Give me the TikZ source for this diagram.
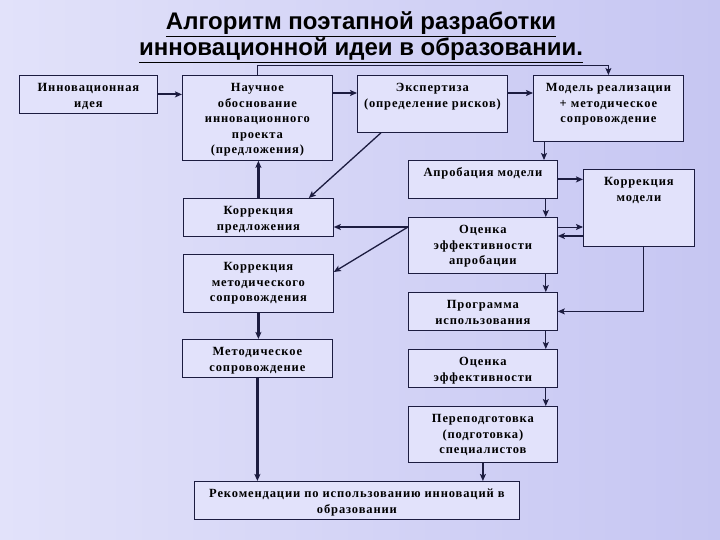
\documentclass[tikz,border=0pt]{standalone}
\usepackage{fontspec}
\setmainfont{Liberation Serif}[LetterSpace=7]
\newfontfamily\titlefont{Liberation Sans}
\usetikzlibrary{arrows.meta,positioning}
\tikzset{ > = {Stealth[length=7pt,width=6pt,inset=1.5pt]} }

\definecolor{bgl}{RGB}{226,226,250}
\definecolor{bgr}{RGB}{198,198,242}
\definecolor{boxfill}{RGB}{226,226,251}
\definecolor{edge}{RGB}{28,28,64}

% box text: width, height, lines (text at the top)
\newcommand{\boxtxt}[3]{\parbox[t][#2pt][t]{#1pt}{\centering\vspace*{5.5pt}\strut #3\par}}

\begin{document}
\begin{tikzpicture}
  [
    x = 1pt, y = -1pt,
    every node/.style = { font = \bfseries\fontsize{12.5}{15.5}\selectfont },
    blk/.style = { draw = edge, fill = boxfill, line width = 0.8pt, inner sep = 0pt, anchor = north west },
    lnk/.style = { ->, draw = edge, line width = 0.9pt },
    midlnk/.style = { ->, draw = edge, line width = 1.3pt },
    boldlnk/.style = { ->, draw = edge, line width = 2.2pt }
  ]
    \fill [left color = bgl, right color = bgr] (0,0) rectangle (720,540);
    \useasboundingbox (0,0) rectangle (720,540);

    \node (title) [align = center, font = \titlefont\bfseries\fontsize{24}{24}\selectfont] at (361,37)
      {\underline{Алгоритм поэтапной разработки}\\ \underline{инновационной идеи в образовании.}};

    % top row
    \node (a) [blk] at (19,75) {\boxtxt{138}{38}{Инновационная\\ идея}};
    \node (b) [blk] at (182,75) {\boxtxt{150}{85}{Научное\\ обоснование\\ инновационного\\ проекта\\ (предложения)}};
    \node (c) [blk] at (357,75) {\boxtxt{150}{57}{Экспертиза\\ (определение рисков)}};
    \node (d) [blk] at (533,75) {\boxtxt{150}{66}{Модель реализации\\ + методическое\\ сопровождение}};

    % right column
    \node (e) [blk] at (408,160) {\boxtxt{149}{38}{Апробация модели}};
    \node (f) [blk] at (583,169) {\boxtxt{111}{77}{Коррекция\\ модели}};
    \node (g) [blk] at (408,217) {\boxtxt{149}{56}{Оценка\\ эффективности\\ апробации}};
    \node (h) [blk] at (408,292) {\boxtxt{149}{38}{Программа\\ использования}};
    \node (i) [blk] at (408,349) {\boxtxt{149}{38}{Оценка\\ эффективности}};
    \node (j) [blk] at (408,406) {\boxtxt{149}{56}{Переподготовка\\ (подготовка)\\ специалистов}};

    % left column
    \node (l) [blk] at (183,198) {\boxtxt{150}{38}{Коррекция\\ предложения}};
    \node (m) [blk] at (183,254) {\boxtxt{150}{58}{Коррекция\\ методического\\ сопровождения}};
    \node (n) [blk] at (182,339) {\boxtxt{150}{38}{Методическое\\ сопровождение}};
    \node (k) [blk] at (194,481) {\boxtxt{325}{38}{Рекомендации по использованию инноваций в\\ образовании}};

    \coordinate (d1) at ([xshift=11pt]d.south west);
    \coordinate (e1) at ([xshift=-12pt]e.south east);
    \coordinate (c1) at ([xshift=24pt]c.south west);
    \coordinate (l1) at ([xshift=-25pt]l.north east);
    \coordinate (m1) at ([yshift=-18pt]m.north east);
    \coordinate (gw) at ([yshift=-10pt]g.north west);
    \coordinate (ge1) at ([yshift=-10pt]g.north east);
    \coordinate (ge2) at ([yshift=-19pt]g.north east);
    \coordinate (f1) at ([xshift=5pt]f.south);

    \draw [boldlnk] (a.east) -- (a.east -| b.west);
    \draw [boldlnk] ([yshift=-18pt]b.north east) -- ([yshift=-18pt]c.north west);
    \draw [boldlnk] ([yshift=-18pt]c.north east) -- ([yshift=-18pt]d.north west);
    \draw [lnk] (b.north) -- ++(0,-10) -| (d.north);
    \draw [lnk] (d1) -- (d1 |- e.north);
    \draw [lnk] (e1) -- (e1 |- g.north);
    \draw [lnk] (e1 |- g.south) -- (e1 |- h.north);
    \draw [lnk] (e1 |- h.south) -- (e1 |- i.north);
    \draw [lnk] (e1 |- i.south) -- (e1 |- j.north);
    \draw [boldlnk] (j.south) -- (j.south |- k.north);
    \draw [boldlnk] (e.east) -- (e.east -| f.west);
    \draw [lnk] (ge1) -- (ge1 -| f.west);
    \draw [boldlnk] (ge2 -| f.west) -- (ge2);
    \draw [lnk] (f1) |- (h.east);
    \draw [midlnk] (c1) -- (l1);
    \draw [boldlnk] (l.north) -- (l.north |- b.south);
    \draw [midlnk] (gw) -- (gw -| l.east);
    \draw [midlnk] (gw) -- (m1);
    \draw [boldlnk] (m.south) -- (m.south |- n.north);
    \draw [boldlnk] (n.south) -- (n.south |- k.north);
  \end{tikzpicture}
\end{document}
